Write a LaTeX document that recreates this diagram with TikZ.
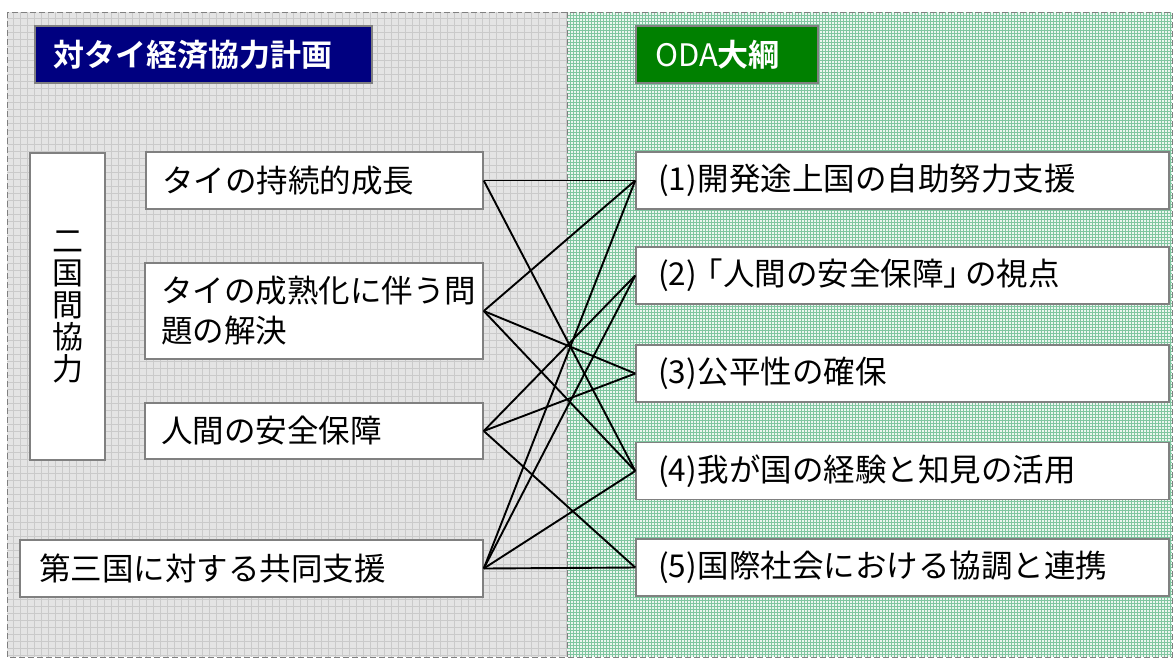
\documentclass[tikz,border=0pt]{standalone}
\usepackage{fontspec}
\setmainfont{Noto Sans CJK JP}[BoldFont={Noto Sans CJK JP Bold}]
\definecolor{navyT}{RGB}{0,0,128}
\definecolor{greenT}{RGB}{0,128,0}
\definecolor{bord}{RGB}{128,128,128}
\definecolor{lbg}{RGB}{228,228,228}
\definecolor{lgrid}{RGB}{202,202,202}
\definecolor{rbg}{RGB}{236,246,240}
\definecolor{rgrid}{RGB}{128,198,160}
\newcommand{\myfs}{\fontsize{31.5}{40}\selectfont}
\newcommand{\pn}[1]{\kern2pt(#1)\kern1pt}
\tikzset{
  box/.style={draw=bord, line width=1.5pt, fill=white, inner ysep=0pt, align=left, font=\myfs},
  titlebox/.style={draw=bord, line width=1.5pt, inner ysep=0pt, align=left, text=white, font=\fontsize{31}{38}\selectfont\bfseries},
  conn/.style={draw=black, line width=1.9pt},
  panel/.style={draw=bord, line width=1pt, dash pattern=on 6pt off 3pt}
}
\begin{document}
\begin{tikzpicture}[x=1pt,y=-1pt]
\useasboundingbox (0,0) rectangle (1174,659);
% panels
\fill[lbg] (7,12) rectangle (567,657);
\foreach \x in {13,20,...,566} \draw[lgrid, line width=0.6pt] (\x,12) -- (\x,657);
\foreach \y in {18,25,...,656} \draw[lgrid, line width=0.6pt] (7,\y) -- (567,\y);
\fill[rbg] (567,12) rectangle (1172,657);
\foreach \x in {570,573,...,1171} \draw[rgrid, line width=0.6pt] (\x,12) -- (\x,657);
\foreach \y in {15,18,...,656} \draw[rgrid, line width=0.6pt] (567,\y) -- (1172,\y);
\draw[panel] (7,12) rectangle (1172,657);
\draw[panel] (567,12) -- (567,657);
% titles
\node[titlebox, fill=navyT, minimum width=337pt, minimum height=57pt, text width=301pt, inner xsep=18pt] (T1) at (203.5,54.5) {対タイ経済協力計画};
\node[titlebox, fill=greenT, minimum width=182pt, minimum height=57pt, text width=144pt, inner xsep=19pt] (T2) at (727,54.5) {\mdseries ODA\bfseries 大綱};
% left boxes
\node[box, minimum width=75pt, minimum height=307pt, inner xsep=0pt, align=center, font=\fontsize{31}{32}\selectfont] (bil) at (67.5,306.5) {二\\国\\間\\協\\力};
\node[box, minimum width=337pt, minimum height=57pt, text width=305pt, inner xsep=16pt] (A) at (314.5,180.5) {タイの持続的成長};
\node[box, minimum width=338pt, minimum height=96pt, text width=306pt, inner xsep=16pt] (B) at (314,311) {タイの成熟化に伴う問\\題の解決};
\node[box, minimum width=338pt, minimum height=56pt, text width=306pt, inner xsep=16pt] (C) at (314,431) {人間の安全保障};
\node[box, minimum width=463pt, minimum height=57pt, text width=425pt, inner xsep=19pt] (D) at (251.5,568.5) {第三国に対する共同支援};
% right boxes
\node[box, minimum width=533pt, minimum height=57pt, text width=493pt, inner xsep=20pt] (R1) at (902.5,180.5) {\pn{1}開発途上国の自助努力支援};
\node[box, minimum width=533pt, minimum height=57pt, text width=493pt, inner xsep=20pt] (R2) at (902.5,275.5) {\pn{2}\kern-6pt「人間の安全保障」\kern-10pt の視点};
\node[box, minimum width=533pt, minimum height=57pt, text width=493pt, inner xsep=20pt] (R3) at (902.5,373.5) {\pn{3}公平性の確保};
\node[box, minimum width=533pt, minimum height=57pt, text width=493pt, inner xsep=20pt] (R4) at (902.5,471) {\pn{4}我が国の経験と知見の活用};
\node[box, minimum width=533pt, minimum height=57pt, text width=493pt, inner xsep=20pt] (R5) at (902.5,567.5) {\pn{5}国際社会における協調と連携};
% connectors
\draw[conn] (A.east) -- (R1.west);
\draw[conn] (A.east) -- (R4.west);
\draw[conn] (B.east) -- (R1.west);
\draw[conn] (B.east) -- (R3.west);
\draw[conn] (B.east) -- (R4.west);
\draw[conn] (C.east) -- (R2.west);
\draw[conn] (C.east) -- (R3.west);
\draw[conn] (C.east) -- (R5.west);
\draw[conn] (D.east) -- (R1.west);
\draw[conn] (D.east) -- (R2.west);
\draw[conn] (D.east) -- (R4.west);
\draw[conn] (D.east) -- (R5.west);
\end{tikzpicture}
\end{document}
